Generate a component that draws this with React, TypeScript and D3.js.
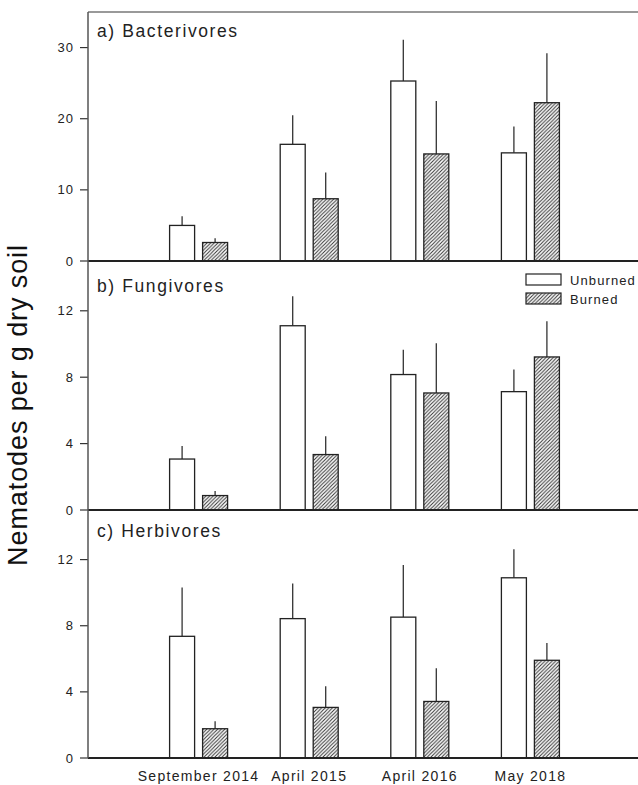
import React from "react";
import * as d3 from "d3";

const categories = ["September 2014", "April 2015", "April 2016", "May 2018"];
const panelTitles = ["a) Bacterivores", "b) Fungivores", "c) Herbivores"];
const panelMax = [35, 15, 15];
const panelTicks = [[0, 10, 20, 30], [0, 4, 8, 12], [0, 4, 8, 12]];

const bactUnburned = [5.0, 16.4, 25.3, 15.2];
const bactUnburnedErr = [1.3, 4.1, 5.8, 3.7];
const bactBurned = [2.6, 8.75, 15.05, 22.25];
const bactBurnedErr = [0.6, 3.7, 7.45, 6.95];

const fungUnburned = [3.07, 11.1, 8.16, 7.13];
const fungUnburnedErr = [0.79, 1.77, 1.5, 1.33];
const fungBurned = [0.87, 3.34, 7.05, 9.22];
const fungBurnedErr = [0.28, 1.1, 2.99, 2.15];

const herbUnburned = [7.36, 8.43, 8.52, 10.9];
const herbUnburnedErr = [2.95, 2.12, 3.16, 1.72];
const herbBurned = [1.77, 3.06, 3.42, 5.91];
const herbBurnedErr = [0.46, 1.28, 2.01, 1.04];

const legendLabels = ["Unburned", "Burned"];

const panels = [
  { u: bactUnburned, ue: bactUnburnedErr, b: bactBurned, be: bactBurnedErr },
  { u: fungUnburned, ue: fungUnburnedErr, b: fungBurned, be: fungBurnedErr },
  { u: herbUnburned, ue: herbUnburnedErr, b: herbBurned, be: herbBurnedErr },
];

const W = 638;
const H = 785;
const left = 88;
const panelTops = [12, 261, 510];
const panelBottoms = [261, 510, 758];
const font = "'Liberation Sans', Arial, Helvetica, sans-serif";
const barW = 25;
const gap = 4;

export default function App() {
  const x = d3.scaleLinear().domain([0, 5]).range([left, 641]);
  return (
    <svg
      width={W}
      height={H}
      style={{ position: "absolute", left: 0, top: 0, background: "#fff" }}
      fontFamily={font}
    >
      <defs>
        <pattern id="hatch" patternUnits="userSpaceOnUse" width={3.6} height={3.6}>
          <rect width={3.6} height={3.6} fill="#fff" />
          <path d="M-0.9,0.9 L0.9,-0.9 M0,3.6 L3.6,0 M2.7,4.5 L4.5,2.7" stroke="#333" strokeWidth={1} />
        </pattern>
      </defs>
      <rect x={0} y={0} width={W} height={H} fill="#fff" />
      {panels.map((p, pi) => {
        const y = d3.scaleLinear().domain([0, panelMax[pi]]).range([panelBottoms[pi], panelTops[pi]]);
        return (
          <g key={pi}>
            {panelTicks[pi].map((t) => (
              <g key={t}>
                <line x1={left - 8} x2={left} y1={y(t)} y2={y(t)} stroke="#333" strokeWidth={1.2} />
                <text
                  x={left - 14}
                  y={y(t)}
                  dy="0.35em"
                  textAnchor="end"
                  fontSize={13}
                  letterSpacing={1}
                  fill="#222"
                >
                  {t}
                </text>
              </g>
            ))}
            {categories.map((c, i) => {
              const cx = x(i + 1);
              const ux = cx - gap - barW;
              const bx = cx + gap;
              return (
                <g key={c}>
                  <line x1={ux + barW / 2} x2={ux + barW / 2} y1={y(p.u[i])} y2={y(p.u[i] + p.ue[i])} stroke="#333" strokeWidth={1.3} />
                  <line x1={bx + barW / 2} x2={bx + barW / 2} y1={y(p.b[i])} y2={y(p.b[i] + p.be[i])} stroke="#333" strokeWidth={1.3} />
                  <rect x={ux} y={y(p.u[i])} width={barW} height={y(0) - y(p.u[i])} fill="#fff" stroke="#222" strokeWidth={1.3} />
                  <rect x={bx} y={y(p.b[i])} width={barW} height={y(0) - y(p.b[i])} fill="url(#hatch)" stroke="#222" strokeWidth={1.3} />
                </g>
              );
            })}
            <line x1={left} x2={W} y1={panelBottoms[pi]} y2={panelBottoms[pi]} stroke="#222" strokeWidth={2} />
            <text
              x={97}
              y={[37.3, 291.7, 537.3][pi]}
              fontSize={17.5}
              letterSpacing={1.6}
              fill="#222"
            >
              {panelTitles[pi]}
            </text>
          </g>
        );
      })}
      <line x1={left} x2={W} y1={12} y2={12} stroke="#777" strokeWidth={1.5} />
      <line x1={left} x2={left} y1={12} y2={758} stroke="#555" strokeWidth={1.5} />
      {categories.map((c, i) => (
        <text key={c} x={x(i + 1)} y={780.5} textAnchor="middle" fontSize={14} letterSpacing={1.3} fill="#222">
          {c}
        </text>
      ))}
      <g>
        <rect x={526} y={274} width={35} height={11} fill="#fff" stroke="#222" strokeWidth={1.2} />
        <rect x={526} y={293} width={35} height={11} fill="url(#hatch)" stroke="#222" strokeWidth={1.2} />
        <text x={570} y={285} fontSize={13} letterSpacing={1.1} fill="#222">{legendLabels[0]}</text>
        <text x={570} y={304} fontSize={13} letterSpacing={1.1} fill="#222">{legendLabels[1]}</text>
      </g>
      <text
        transform="translate(27,405) rotate(-90)"
        textAnchor="middle"
        fontSize={27}
        letterSpacing={0.9}
        fill="#111"
      >
        Nematodes per g dry soil
      </text>
    </svg>
  );
}
